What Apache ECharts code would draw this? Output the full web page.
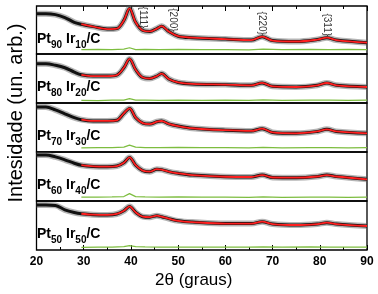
<!DOCTYPE html>
<html>
<head>
<meta charset="utf-8">
<script src="https://cdn.jsdelivr.net/npm/echarts@6/dist/echarts.min.js"></script>
<style>
  html, body { margin: 0; padding: 0; background: #fff; }
  #chart { width: 378px; height: 294px; }
</style>
</head>
<body>
<div id="chart"></div>
<script>
// 2theta positions (graus) where the curves were read
const twoTheta = [20, 22, 24, 26, 28, 29.5, 32, 35, 37, 38.5, 39.7, 41, 42.5, 44, 45.5, 46.5, 48, 50, 53, 60, 65.5, 67.8, 70, 75, 79.5, 81.5, 83.5, 90];

// measured intensity (arb. units, 0-100 per panel)
const pt90 = [84, 84, 82, 76, 66, 62, 57, 52, 53, 70, 95, 66, 49, 47, 53, 58, 47, 37, 34, 31, 29, 36, 28, 26, 30, 34, 29, 23.5];
const pt80 = [80, 80, 77, 72, 63, 57.5, 55, 55, 57, 72, 90, 68, 52, 50, 55, 60, 49, 42, 39, 37.5, 36, 41, 34, 32.7, 36, 40.8, 36, 32.7];
const pt70 = [92, 92, 86, 78, 70, 66, 63.5, 63.5, 64.7, 79, 89, 70, 59, 57, 61.8, 63.3, 57.5, 53, 48.5, 44.5, 43, 47.6, 40, 38.2, 42, 46.3, 42, 38.2];
const pt60 = [94, 94, 90, 84, 77, 73, 70.5, 70, 71.4, 78, 89, 73, 62, 59.8, 65, 64, 60, 56.5, 53, 49.5, 49, 53, 48, 47.6, 50, 53, 50, 44.3];
const pt50 = [92, 92, 91, 82, 76.5, 74, 72, 71.5, 73.5, 80, 89, 77, 68, 67, 70, 68, 64, 59.5, 57, 54, 54, 57.8, 53, 51, 53, 55.7, 53, 49];

// fit starts here (graus)
const fitStart = 29.5;

// residuals (green)
const resTheta = [29.5, 33, 36, 38.5, 39.7, 41, 43, 46, 50, 55, 60, 65, 68, 72, 78, 82, 86, 90];
const res90 = [9, 9.5, 9, 10, 13, 9, 9.5, 9, 9.5, 9, 9, 8.5, 10, 9, 9.5, 9, 9.5, 9];
const res80 = [5.5, 5, 6, 6, 9, 6, 6, 5.5, 6, 5.5, 6, 5.5, 6.5, 5.5, 6, 6, 5.5, 6];
const res70 = [8.5, 9, 9, 10, 14, 10, 9, 9, 9.5, 9, 9, 8.5, 9.5, 8.5, 9, 9, 8.5, 9];
const res60 = [8, 8, 8.5, 9, 15, 9, 8.5, 8, 8.5, 8, 8, 7.5, 8.5, 7.5, 8, 8, 7.5, 8];
const res50 = [5.5, 6, 6, 7, 9, 7, 6.5, 6, 6, 6, 6, 6, 6.5, 6, 6.5, 6, 6, 6];

// sample composition
const ptSub = ['90', '80', '70', '60', '50'];
const irSub = ['10', '20', '30', '40', '50'];

// peak indexes in top panel
const hklText = ['{111}', '{200}', '{220}', '{311}'];
const hklTheta = [42.6, 48.8, 67.8, 81.5];
const hklY = [76, 71, 64, 61];

const xTicks = [20, 30, 40, 50, 60, 70, 80, 90];

(function () {
    let chart = echarts.init(document.querySelector('#chart'));
    const font = "'Liberation Sans', Arial, sans-serif";

    const curves = [pt90, pt80, pt70, pt60, pt50];
    const resids = [res90, res80, res70, res60, res50];
    const panelTop = [6, 54, 103, 152, 201];
    const panelH = [48, 49, 49, 49, 49];

    let grids = [], xAxes = [], yAxes = [], series = [], graphics = [];

    for (let i = 0; i < 5; i++) {
        const last = i === 4;
        grids.push({
            left: 36.5, right: 11, top: panelTop[i], height: panelH[i],
            show: true, borderColor: '#000', borderWidth: 1.3, backgroundColor: 'transparent'
        });
        xAxes.push({
            gridIndex: i, type: 'value', min: xTicks[0], max: xTicks[xTicks.length - 1], interval: 10,
            axisLine: { show: false },
            axisTick: { show: last, inside: true, length: 5, lineStyle: { color: '#000', width: 1 } },
            minorTick: { show: last, splitNumber: 2, length: 3, lineStyle: { color: '#000', width: 1 } },
            axisLabel: { show: last, margin: 6, color: '#000', fontWeight: 'bold', fontSize: 12, fontFamily: font },
            splitLine: { show: false },
            name: last ? '2θ (graus)' : '',
            nameLocation: 'middle', nameGap: 22,
            nameTextStyle: { color: '#000', fontSize: 17, fontFamily: font, padding: [0, 16, 0, 0] }
        });
        yAxes.push({
            gridIndex: i, type: 'value', min: 0, max: 100,
            axisLine: { show: false }, axisTick: { show: false }, axisLabel: { show: false },
            splitLine: { show: false }
        });

        const pts = twoTheta.map((x, k) => [x, curves[i][k]]);
        const fit = pts.filter(p => p[0] >= fitStart);
        const res = resTheta.map((x, k) => [x, resids[i][k]]);

        series.push({
            type: 'line', xAxisIndex: i, yAxisIndex: i, data: pts, smooth: 0.35,
            showSymbol: false, silent: true, z: 1,
            lineStyle: { color: 'rgba(90,90,90,0.45)', width: 6 }
        });
        series.push({
            type: 'line', xAxisIndex: i, yAxisIndex: i, data: pts, smooth: 0.35,
            showSymbol: false, silent: true, z: 2,
            lineStyle: { color: '#111', width: 3 }
        });
        series.push({
            type: 'line', xAxisIndex: i, yAxisIndex: i, data: fit, smooth: 0.35,
            showSymbol: false, silent: true, z: 3,
            lineStyle: { color: '#ff1f1f', width: 1.8 }
        });
        series.push({
            type: 'line', xAxisIndex: i, yAxisIndex: i, data: res,
            showSymbol: false, silent: true, z: 2,
            lineStyle: { color: '#7dbd3f', width: 1.2 }
        });

        graphics.push({
            type: 'text', left: 37, top: panelTop[i] + 26, silent: true, z: 10,
            style: {
                text: '{m|Pt}{s|' + ptSub[i] + '}{m| Ir}{s|' + irSub[i] + '}{m|/C}',
                rich: {
                    m: { fontSize: 14, fontWeight: 'bold', fontFamily: font, fill: '#000', lineHeight: 22, verticalAlign: 'middle' },
                    s: { fontSize: 10, fontWeight: 'bold', fontFamily: font, fill: '#000', lineHeight: 10, verticalAlign: 'bottom' }
                }
            }
        });
    }

    // y title
    graphics.push({
        type: 'text', x: 16, y: 113, rotation: Math.PI / 2, silent: true,
        style: {
            text: 'Intesidade (un. arb.)', fontSize: 20, fontFamily: font, fill: '#000',
            align: 'center', verticalAlign: 'middle'
        }
    });

    // top ticks
    xAxes.push({
        gridIndex: 0, type: 'value', position: 'top', min: xTicks[0], max: xTicks[xTicks.length - 1], interval: 10,
        axisLine: { show: false },
        axisTick: { show: true, inside: true, length: 5, lineStyle: { color: '#000' } },
        minorTick: { show: true, splitNumber: 2, length: 3, lineStyle: { color: '#000' } },
        axisLabel: { show: false }, splitLine: { show: false }
    });

    series.push({
        type: 'scatter', xAxisIndex: 0, yAxisIndex: 0, symbolSize: 0, silent: true, z: 5,
        data: hklTheta.map((x, k) => ({ value: [x, hklY[k]], name: hklText[k] })),
        label: {
            show: true, position: 'inside', rotate: -90, formatter: '{b}',
            color: '#000', fontSize: 10, fontFamily: font
        }
    });

    let option = {
        animation: false,
        backgroundColor: '#fff',
        grid: grids,
        xAxis: xAxes,
        yAxis: yAxes,
        series: series,
        graphic: graphics
    };

    chart.setOption(option);
})();
</script>
</body>
</html>
